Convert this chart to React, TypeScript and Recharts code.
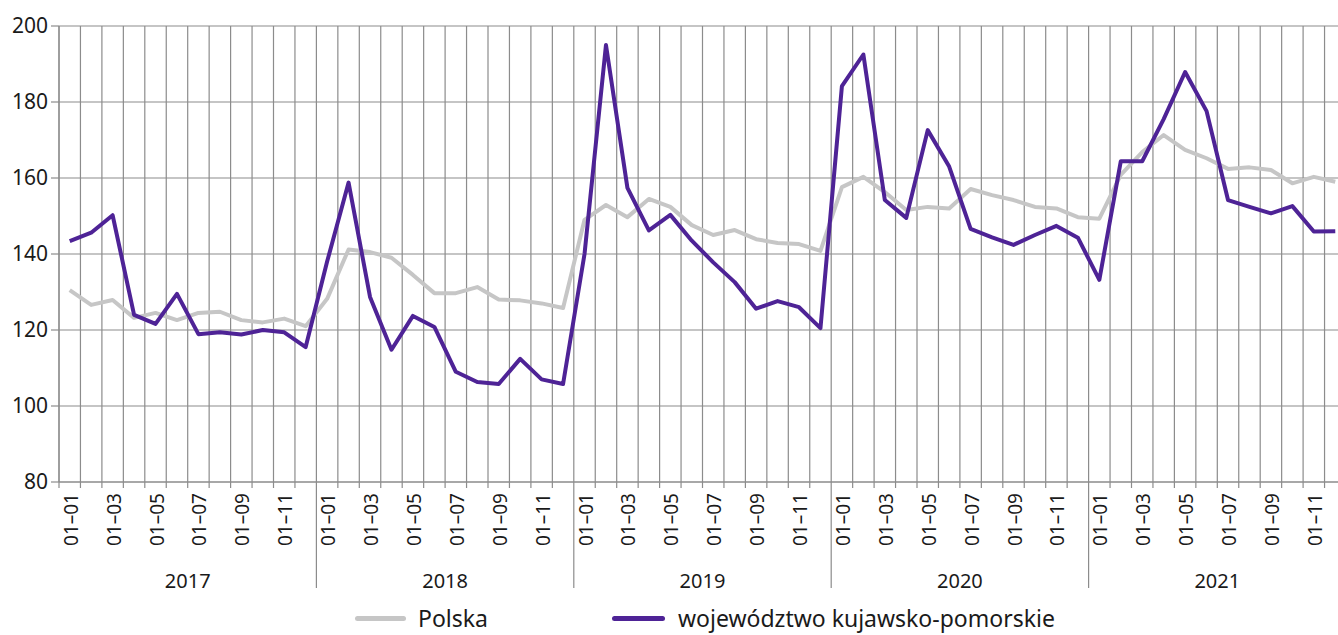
import React from 'react';
import {
  LineChart, Line, XAxis, YAxis, CartesianGrid, Legend
} from 'recharts';

// month labels shown under every second month
const monthLabels = ['01–01', '01–03', '01–05', '01–07', '01–09', '01–11'];
const years = ['2017', '2018', '2019', '2020', '2021'];
const yTicks = [80, 100, 120, 140, 160, 180, 200];

const polska = [
  130.5, 126.6, 127.9, 123.2, 124.5, 122.6, 124.5, 124.8, 122.6, 122.0, 123.0, 121.0,
  128.2, 141.2, 140.5, 139.0, 134.5, 129.7, 129.7, 131.3, 128.0, 127.8, 127.0, 125.8,
  149.0, 152.9, 149.7, 154.5, 152.4, 147.6, 145.0, 146.3, 143.9, 142.9, 142.6, 140.8,
  157.6, 160.3, 156.3, 151.6, 152.4, 152.0, 157.1, 155.5, 154.2, 152.4, 152.0, 149.7,
  149.3, 160.8, 166.8, 171.3, 167.4, 165.2, 162.4, 162.8, 162.1, 158.6, 160.3, 159.0,
];

const kujawsko = [
  143.4, 145.6, 150.2, 124.0, 121.6, 129.5, 118.9, 119.4, 118.8, 120.0, 119.4, 115.5,
  138.0, 158.8, 128.7, 114.8, 123.7, 120.8, 109.0, 106.3, 105.8, 112.4, 107.0, 105.8,
  140.0, 195.0, 157.4, 146.2, 150.3, 143.5, 137.8, 132.6, 125.6, 127.6, 126.0, 120.5,
  184.2, 192.5, 154.2, 149.5, 172.6, 163.0, 146.6, 144.4, 142.4, 145.0, 147.4, 144.3,
  133.2, 164.4, 164.4, 175.5, 187.9, 177.6, 154.2, 152.4, 150.7, 152.6, 145.9, 146.0,
];

const FONT = '"Noto Sans", sans-serif';
const GRID = '#8c8c8c';
const GRAY = '#c6c6c6';
const PURPLE = '#4e2396';

const nMonths = polska.length;
const data = polska.map((p, i) => ({ x: i + 0.5, polska: p, kuj: kujawsko[i] }));

const gridTicks: number[] = [];
for (let i = 0; i <= nMonths; i++) gridTicks.push(i);
const halfTicks: number[] = [];
for (let i = 0; i <= nMonths * 2; i++) halfTicks.push(i / 2);

const MonthTick = (props: any) => {
  const { x, y, payload } = props;
  const v = payload.value as number;
  if (Number.isInteger(v)) {
    const sep = v % 12 === 0 && v > 0 && v < nMonths;
    return (
      <g>
        <line x1={x} x2={x} y1={y} y2={y + (sep ? 106 : 6)} stroke={GRID} strokeWidth={1.2} />
        {v % 12 === 6 && (
          <text x={x} y={y + 106} textAnchor="middle" fontSize={20} fontFamily={FONT} fill="#1a1a1a">
            {years[(v - 6) / 12]}
          </text>
        )}
      </g>
    );
  }
  const m = Math.floor(v);
  if (m % 2 !== 0) return <g />;
  return (
    <text
      x={x + 1}
      y={y + 11}
      transform={`rotate(-90, ${x + 1}, ${y + 11})`}
      textAnchor="end"
      dominantBaseline="central"
      fontSize={19}
      fontFamily={FONT}
      fill="#1a1a1a"
    >
      {monthLabels[(m % 12) / 2]}
    </text>
  );
};

const LegendContent = () => (
  <div style={{ display: 'flex', alignItems: 'center', fontFamily: FONT, fontSize: 23, lineHeight: '24px', color: '#1a1a1a' }}>
    <div style={{ display: 'flex', alignItems: 'center', width: 257 }}>
      <span style={{ display: 'inline-block', width: 51, height: 5, borderRadius: 3, background: GRAY, marginRight: 12 }} />
      <span>Polska</span>
    </div>
    <div style={{ display: 'flex', alignItems: 'center' }}>
      <span style={{ display: 'inline-block', width: 53, height: 5, borderRadius: 3, background: PURPLE, marginRight: 13 }} />
      <span>województwo kujawsko-pomorskie</span>
    </div>
  </div>
);

export default function App() {
  return (
    <div style={{ position: 'absolute', left: 0, top: 0, width: 1338, height: 635, overflow: 'hidden', background: '#fff' }}>
      <LineChart width={1346} height={635} data={data} margin={{ top: 26, right: 0, bottom: 0, left: 0 }}>
        <CartesianGrid xAxisId="grid" stroke={GRID} strokeWidth={1.2} horizontalValues={yTicks} />
        <XAxis xAxisId="grid" dataKey="x" type="number" domain={[0, nMonths]} ticks={gridTicks} interval={0} height={0} hide />
        <XAxis
          xAxisId="lbl"
          dataKey="x"
          type="number"
          domain={[0, nMonths]}
          ticks={halfTicks}
          interval={0}
          height={153}
          tickSize={0}
          tickMargin={0}
          tickLine={false}
          axisLine={{ stroke: GRID, strokeWidth: 1.2 }}
          tick={<MonthTick />}
        />
        <YAxis
          domain={[80, 200]}
          ticks={yTicks}
          interval={0}
          width={59}
          tickSize={8}
          tickMargin={3}
          tickLine={{ stroke: GRID, strokeWidth: 1.2 }}
          axisLine={{ stroke: GRID, strokeWidth: 1.2 }}
          tick={{ fontSize: 21, fontFamily: FONT, fill: '#1a1a1a' }}
        />
        <Legend
          layout="horizontal"
          verticalAlign="middle"
          align="center"
          wrapperStyle={{ position: 'absolute', left: 355, top: 606, width: 'auto' }}
          content={<LegendContent />}
        />
        <Line xAxisId="lbl" dataKey="polska" stroke={GRAY} strokeWidth={4} dot={false} isAnimationActive={false} strokeLinejoin="round" />
        <Line xAxisId="lbl" dataKey="kuj" stroke={PURPLE} strokeWidth={4} dot={false} isAnimationActive={false} strokeLinejoin="round" />
      </LineChart>
    </div>
  );
}
